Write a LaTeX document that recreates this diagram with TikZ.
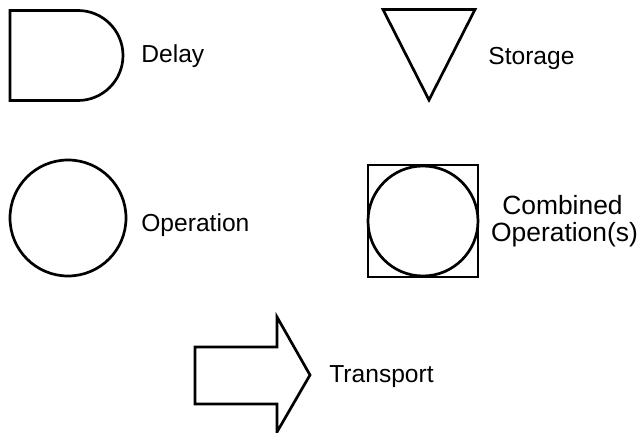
\documentclass[tikz,border=0pt]{standalone}
\usepackage{fontspec}
\setmainfont{Liberation Sans}
\usetikzlibrary{positioning}

\tikzset{
	symbol/.style={draw,line width=1.35pt,inner sep=0pt},
	legend/.style={font=\fontsize{12.3}{12.5}\selectfont,anchor=base west,inner sep=0pt}
}

\begin{document}
\begin{tikzpicture}[x=0.5pt,y=-0.5pt,line width=1.35pt]
		\useasboundingbox (0,0) rectangle (639,433);
		
		% delay: box with a round right end
		\draw (10,10.5) -- (78,10.5) arc[start angle=-90,end angle=90,radius=45] -- (10,100.5) -- cycle;
		\node[legend] (delay) at (140,63) {Delay};
		
		% storage: triangle on its tip
		\draw (383,9.5) -- (475,9.5) -- (429,100) -- cycle;
		\node[legend] (storage) at (487,65) {Storage};
		
		\node[symbol,circle,minimum size=58pt] (op) at (68,218) {};
		\node[legend] (oplabel) at (140,232) {Operation};
		
		\node[symbol,minimum width=55pt,minimum height=56pt] (comb) at (423,221) {};
		\node[symbol,circle,minimum size=55pt] (combop) at (comb.center) {};
		\node[legend,anchor=base,font=\fontsize{13.2}{13.5}\selectfont] (comblabel) at (562.5,215) {Combined};
		\node[legend,anchor=base,font=\fontsize{13.2}{13.5}\selectfont] (comblabel2) at (564.5,242) {Operation(s)};
		
		% transport: block arrow
		\draw (195,347) -- (277,347) -- (277,317) -- (310,375) -- (277,432) -- (277,404) -- (195,404) -- cycle;
		\node[legend] (transport) at (328,383) {Transport};

	\end{tikzpicture}
\end{document}
